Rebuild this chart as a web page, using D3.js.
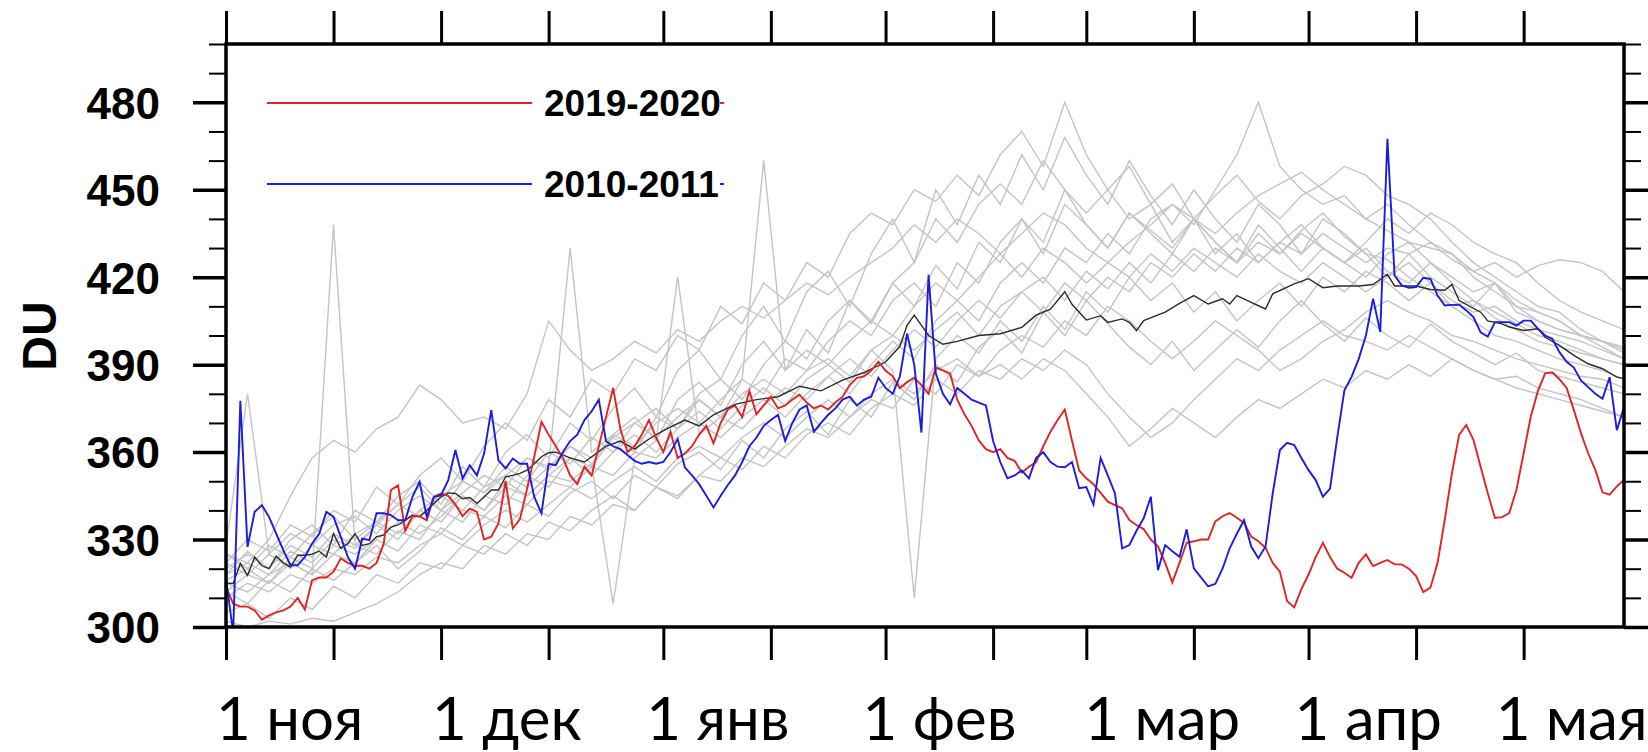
<!DOCTYPE html>
<html>
<head>
<meta charset="utf-8">
<script src="https://cdn.jsdelivr.net/npm/d3@7"></script>
<style>
  body { margin: 0; background: #fff; }
  svg { display: block; }
</style>
</head>
<body>
<svg id="chart"></svg>
<script>
// 1. Data (days counted from 1 Nov, values in DU)
const startDate = new Date(2010, 10, 1);
const endDate = new Date(2011, 4, 15);

const monthLabels = ["1 ноя", "1 дек", "1 янв", "1 фев", "1 мар", "1 апр", "1 мая"];
const yMajorTicks = [300, 330, 360, 390, 420, 450, 480];
const legendNames = ["2019-2020", "2010-2011"];

// 2019-2020, one value per day
const red2019 = [
  313.7, 308, 307, 307, 305.7, 302.5, 304, 305, 305.7, 307, 310, 306, 316, 317, 317, 319, 323.5, 322, 321, 321,
  320, 322, 328.6, 347, 348.6, 333, 338, 338, 336.6, 344.7, 345.8, 345, 342, 338, 340.6, 339.5, 330, 331, 335.5, 350,
  333.8, 337, 347.5, 358.4, 370.4, 366, 362, 358, 352, 349, 355, 352, 362, 372, 382, 368, 360, 362, 366, 371,
  365, 360, 367, 358, 359.5, 362, 366, 369, 363, 370, 374.6, 376, 372, 381, 373, 376, 379, 375, 376, 378,
  379.7, 377, 375, 376, 374.6, 377, 379, 383, 385.5, 386, 388, 391, 388, 386, 382, 384, 385.5, 383, 380, 389,
  388, 387, 378, 373, 369, 364, 361, 360, 361, 358, 357, 353, 355, 356.6, 362, 367, 371, 374.6, 364, 353.7,
  351, 349, 346, 343, 341.8, 340.7, 336.7, 335, 333.6, 330, 327.7, 322, 315.3, 322, 328.9, 329.4, 330, 330, 336.2, 338,
  339.1, 337.5, 335.7, 331, 329.4, 327.2, 322, 319, 308.9, 306.7, 313, 318, 324, 328.9, 324, 320, 318.6, 316.9, 322, 324.9,
  320.9, 322, 323, 321.5, 321.5, 320, 317.5, 312, 313.5, 322, 336.8, 352.8, 365.9, 369.3, 364.2, 355, 345.9, 337.4, 337.7, 339.1,
  347.1, 359.6, 372.2, 381, 387, 387.4, 385, 382, 374.5, 366.5, 359.6, 353.9, 346.2, 345.4, 348.2, 350.5
];

// 2010-2011, one value per day
const blue2010 = [
  316.6, 298, 377.6, 327.5, 339.5, 341.8, 337.8, 332, 326.3, 321.2, 321.2, 324, 328.6, 332, 339.5, 337.8, 331, 324, 320, 330.3,
  329.8, 339, 339, 338.4, 336.6, 336.6, 344.6, 349.8, 337.8, 344.6, 345.2, 350.4, 360.7, 351, 355.5, 352, 359.5, 374.4, 357.2, 354.4,
  357.8, 356, 356, 344.6, 339, 356, 355.5, 360, 363.8, 366, 371, 374, 378, 363.8, 362, 361, 359, 357, 356, 356.6,
  356, 356.6, 360, 364.5, 354.8, 352, 349, 345, 341, 345, 348.7, 352, 356.6, 362, 365, 369, 371, 372.8, 363.8, 370,
  374.6, 376, 367, 370, 372.8, 375, 378, 379, 376, 378, 379, 385.5, 382, 380, 386, 400.6, 390, 366.7, 420.8, 387,
  380, 376.4, 382, 380, 378, 377, 376, 363.8, 356.6, 351, 352, 353.7, 351, 358, 360, 356.6, 355, 354.8, 356.6, 347.6,
  348, 342, 358, 352, 345.8, 327, 328.1, 333, 337.3, 344.7, 319.5, 328.1, 326, 324.1, 333.5, 320.1, 317, 313.9, 314.8, 320,
  327, 332, 336.7, 327.6, 323.6, 327.6, 345.8, 360.7, 363.2, 362.4, 358, 353.8, 350.4, 344.7, 347.5, 365, 381.2, 385.8, 392, 400,
  412.6, 401.2, 467.5, 420.6, 417.2, 416.4, 416.6, 419.8, 419.4, 413.7, 410.3, 410.5, 410.6, 408.6, 406.3, 401.1, 399.6, 404.6, 404.6, 404.6,
  403.4, 405.1, 405.1, 402.3, 400, 398.9, 394.3, 391, 389, 384.6, 382.3, 380, 378.3, 385.7, 367.5, 375.5
];

// mean of all years: [day, DU]
const meanLine = [
  [0, 315], [1, 314.9], [2, 321.8], [3, 317.7], [4, 324], [5, 321], [6, 320], [7, 324.3], [8, 322], [9, 320.6],
  [10, 324.6], [11, 324.6], [12, 325], [13, 326], [14, 324], [15, 332], [16, 327], [17, 328.6], [18, 332], [19, 328],
  [20, 328.6], [21, 331], [22, 331.5], [23, 334.3], [24, 335], [25, 336.6], [26, 338.4], [27, 337.8], [28, 340], [29, 342.4],
  [30, 344.6], [31, 346], [32, 345.8], [33, 344], [34, 344.4], [35, 342.4], [36, 344.6], [37, 347], [38, 347], [39, 351.5],
  [40, 352], [41, 352.7], [42, 353.8], [43, 356], [44, 358.4], [45, 359.8], [46, 360], [48, 358], [50, 356.6], [53, 362],
  [55, 363.8], [57, 361], [59, 364.5], [61, 367.4], [64, 371], [66, 369], [68, 372.8], [71, 376.4], [74, 378], [77, 379],
  [80, 382.6], [83, 381], [86, 384.7], [89, 387.3], [92, 390.9], [94, 396.3], [95, 403.5], [96, 407], [98, 400], [100, 397],
  [102, 398], [105, 400], [108, 400.6], [111, 402.8], [113, 407], [115, 409], [117, 415], [118, 410.7], [120, 405.3], [122, 406.8],
  [123, 404.5], [125, 405.7], [126, 404.5], [127, 401.7], [128, 405.1], [131, 408], [133, 411], [135, 413.7], [137, 410.8], [139, 412.6],
  [140, 410.8], [141, 413.7], [143, 411.4], [145, 409.1], [146, 414.3], [149, 417.7], [151, 419.5], [153, 416.4], [155, 417], [158, 417],
  [160, 417.5], [162, 421], [163, 417], [166, 417], [168, 415.8], [170, 415.5], [171, 417.5], [172, 412], [175, 408], [176, 405],
  [178, 404], [179, 402.9], [181, 401.7], [183, 402.3], [184, 399.4], [186, 396.6], [188, 393.2], [190, 390.3], [192, 388.6], [194, 385.7],
  [195, 385.2]
];

// other years, sampled every 3 days
const greyDays = d3.range(0, 196, 3);
const otherYears = [
  [322,330,326,335,331,340,336,348,342,352,358, 350,362,370,364,378,372,385,380,392,388,400,
   395,410,404,418,412,425,420,435,442,438,450, 446,455,448,462,470,458,480,462,450,458,445,
   452,440,448,455,446,440,448,452,458,455,448, 445,440,432,425,420,415,410,408,402,398,396],
  [312,318,315,322,318,438,328,325,333,330,340, 336,345,342,352,348,358,355,365,360,372,368,
   378,372,385,380,392,388,398,405,400,412,418, 410,425,418,432,440,428,445,438,430,442,435,
   428,440,432,425,438,430,422,430,425,420,428, 432,425,420,415,418,410,405,402,400,396,392],
  [305,308,303,310,306,314,310,318,315,322,320, 328,325,332,328,336,333,340,345,340,348,344,
   352,358,354,362,358,366,370,366,375,380,376, 385,380,388,385,392,388,395,390,380,372,365,
   370,378,385,392,388,395,400,405,400,398,395, 400,396,392,388,385,386,382,380,378,375,372],
  [325,322,330,345,358,364,360,368,372,383,378, 370,372,368,380,405,395,388,392,398,394,402,
   398,405,410,406,412,418,414,420,425,430,438, 432,440,435,428,435,442,438,430,425,432,438,
   445,440,435,442,448,452,456,450,445,440,436, 432,430,428,422,418,412,408,405,400,398,395],
  [318,322,318,326,322,330,327,335,330,340,336, 345,340,350,345,352,358,352,360,366,360,368,
   374,368,376,382,376,385,390,384,395,388,310, 392,400,394,405,398,410,402,415,408,420,412,
   418,408,415,405,412,418,410,420,415,422,418, 412,418,410,405,400,398,395,392,390,388,385],
  [328,380,325,332,328,335,338,332,340,345,340, 350,346,355,350,360,356,365,360,370,375,368,
   380,385,378,390,398,392,405,412,405,418,425, 440,432,445,452,445,460,450,442,450,440,445,
   432,440,428,435,425,432,438,430,425,432,440, 435,442,438,432,428,425,418,412,408,405,402],
  [302,300,302,301,303,302,305,308,312,318,322, 320,328,325,332,330,338,335,342,340,348,345,
   352,350,358,355,362,368,365,372,378,375,385, 380,390,386,395,400,396,405,400,410,405,398,
   392,398,405,400,395,388,392,398,402,408,412, 408,405,400,398,395,392,390,388,386,385,382],
  [315,312,318,322,318,325,322,330,326,335,332, 340,338,345,342,350,348,355,352,360,358,365,
   370,365,372,378,372,380,386,380,390,398,392, 405,412,405,418,425,418,430,425,435,428,440,
   445,438,450,462,480,458,450,445,448,440,445, 438,432,428,420,415,410,408,405,400,398,396],
  [322,318,325,320,328,325,332,336,332,340,345, 340,348,352,348,355,362,358,365,370,365,372,
   378,372,380,385,380,388,392,386,395,400,395, 402,408,400,410,415,408,418,412,420,415,425,
   420,428,422,430,425,432,428,435,430,425,430, 428,432,426,422,425,420,424,426,425,422,415],
  [310,315,312,318,315,320,318,324,322,328,332, 328,335,340,336,342,348,344,350,355,350,358,
   362,358,365,370,365,372,378,372,380,385,380, 388,392,386,390,385,392,388,380,372,362,368,
   375,370,365,372,378,375,380,385,382,388,385, 390,386,392,388,385,382,380,378,376,374,372],
  [320,325,320,328,324,332,328,335,342,338,345, 350,346,352,358,355,430,360,366,362,370,375,
   370,378,385,460,388,395,390,398,405,400,410, 418,412,420,428,420,430,425,418,425,420,428,
   422,430,425,420,428,422,418,425,420,415,420, 425,418,412,408,410,405,402,400,398,395,392],
  [316,320,315,324,320,328,325,330,336,332,338, 345,340,348,345,352,350,356,308,358,364,420,
   366,372,368,376,382,378,386,392,386,395,402, 396,405,412,406,415,420,412,422,416,425,418,
   428,422,430,425,432,428,435,430,425,430,422, 418,425,418,412,408,404,400,398,395,392,390],
  [318,326,320,330,335,328,340,336,345,350,342, 355,348,360,366,358,370,364,375,382,372,388,
   395,385,400,410,398,415,422,410,428,440,425, 450,438,455,445,462,450,468,455,445,460,448,
   438,450,440,432,445,438,428,440,435,428,420, 428,420,415,410,418,408,405,402,400,398,394],
  [312,308,316,312,320,316,322,328,320,326,334, 330,338,334,342,338,346,350,344,352,348,356,
   360,354,364,358,368,374,366,378,372,384,378, 390,384,396,402,394,408,400,412,404,396,390,
   398,388,395,402,396,405,412,404,398,406,400, 396,404,398,394,390,394,388,386,384,382,380],
  [325,320,328,324,332,338,330,336,342,348,340, 346,352,348,358,354,362,356,366,372,364,378,
   384,376,390,398,388,402,394,412,404,418,410, 424,416,432,425,440,432,450,438,430,442,436,
   430,440,432,425,435,428,436,442,434,428,426, 420,415,410,412,406,402,398,396,394,392,390]
];

// 2. Chart setup
const width = 1648,
  height = 752;
const plotLeft = 226,
  plotRight = 1624,
  plotTop = 44,
  plotBottom = 627;

const svg = d3.select("#chart").attr("width", width).attr("height", height);

const x = d3.scaleTime().domain([startDate, endDate]).range([plotLeft, plotRight]);
const y = d3.scaleLinear().domain([300, 500]).range([plotBottom, plotTop]);
const dayX = (d) => x(d3.timeDay.offset(startDate, d));

// ticks on the 1st and 16th of every month
const monthStarts = d3.timeMonth.range(startDate, endDate);
const halfMonthTicks = monthStarts
  .flatMap((m) => [m, d3.timeDay.offset(m, 15)])
  .filter((d) => d < endDate);
const yMinorTicks = d3.range(310, 501, 10).filter((v) => !yMajorTicks.includes(v));

svg
  .append("clipPath")
  .attr("id", "plot-clip")
  .append("rect")
  .attr("x", plotLeft)
  .attr("y", plotTop)
  .attr("width", plotRight - plotLeft)
  .attr("height", plotBottom - plotTop);

const plot = svg.append("g").attr("clip-path", "url(#plot-clip)");

const line = d3
  .line()
  .x((d) => dayX(d[0]))
  .y((d) => y(d[1]));

// 3. Lines: other years, mean, then the two highlighted seasons
plot
  .selectAll(".grey")
  .data(otherYears)
  .enter()
  .append("path")
  .attr("class", "grey")
  .attr("d", (vals) => line(vals.map((v, i) => [greyDays[i], v])))
  .attr("fill", "none")
  .attr("stroke", "#c4c4c4")
  .attr("stroke-width", 1.4);

plot
  .append("path")
  .attr("d", line(meanLine))
  .attr("fill", "none")
  .attr("stroke", "#2b2b2b")
  .attr("stroke-width", 1.4);

plot
  .append("path")
  .attr("d", line(red2019.map((v, i) => [i, v])))
  .attr("fill", "none")
  .attr("stroke", "#e02424")
  .attr("stroke-width", 1.9);

plot
  .append("path")
  .attr("d", line(blue2010.map((v, i) => [i, v])))
  .attr("fill", "none")
  .attr("stroke", "#1c1ce0")
  .attr("stroke-width", 1.9);

// 4. Axes
function styleTicks(g, w) {
  g.select(".domain").remove();
  g.selectAll(".tick line").attr("stroke", "#000").attr("stroke-width", w);
}

svg
  .append("g")
  .attr("transform", `translate(0,${plotTop})`)
  .call(d3.axisTop(x).tickValues(halfMonthTicks).tickSize(33).tickFormat(""))
  .call(styleTicks, 3);

svg
  .append("g")
  .attr("transform", `translate(0,${plotBottom})`)
  .call(d3.axisBottom(x).tickValues(halfMonthTicks).tickSize(33).tickFormat(""))
  .call(styleTicks, 3);

const leftMajor = svg
  .append("g")
  .attr("transform", `translate(${plotLeft},0)`)
  .call(d3.axisLeft(y).tickValues(yMajorTicks).tickSize(33).tickPadding(33))
  .call(styleTicks, 3.5);

leftMajor
  .selectAll(".tick text")
  .attr("fill", "#000")
  .attr("font-family", "'Liberation Sans', Arial, Helvetica, sans-serif")
  .attr("font-weight", "bold")
  .attr("font-size", 44)
  .attr("dy", "0.36em");

svg
  .append("g")
  .attr("transform", `translate(${plotLeft},0)`)
  .call(d3.axisLeft(y).tickValues(yMinorTicks).tickSize(17).tickFormat(""))
  .call(styleTicks, 2);

svg
  .append("g")
  .attr("transform", `translate(${plotRight},0)`)
  .call(d3.axisRight(y).tickValues(yMajorTicks).tickSize(33).tickFormat(""))
  .call(styleTicks, 3.5);

svg
  .append("g")
  .attr("transform", `translate(${plotRight},0)`)
  .call(d3.axisRight(y).tickValues(yMinorTicks).tickSize(17).tickFormat(""))
  .call(styleTicks, 2);

// frame
svg
  .append("rect")
  .attr("x", plotLeft)
  .attr("y", plotTop)
  .attr("width", plotRight - plotLeft)
  .attr("height", plotBottom - plotTop)
  .attr("fill", "none")
  .attr("stroke", "#000")
  .attr("stroke-width", 3.5);

// month labels under the axis (hand placed in the original, small nudges)
const labelNudge = [-10, -9, -17, -23, -2, -14, -28];
svg
  .selectAll(".month-label")
  .data(monthLabels)
  .enter()
  .append("text")
  .attr("class", "month-label")
  .attr("x", (d, i) => x(monthStarts[i]) + labelNudge[i])
  .attr("y", 740)
  .attr("font-family", "Lato, Carlito, 'Open Sans', sans-serif")
  .attr("font-size", 60)
  .attr("fill", "#000")
  .text((d) => d);

// y title
svg
  .append("text")
  .attr("transform", `translate(56,336) rotate(-90)`)
  .attr("text-anchor", "middle")
  .attr("font-family", "'Liberation Sans', Arial, Helvetica, sans-serif")
  .attr("font-weight", "bold")
  .attr("font-size", 48)
  .attr("fill", "#000")
  .text("DU");

// 5. Legend
const legendColors = ["#e02424", "#1c1ce0"];
const legendY = [103, 184];
const legend = svg
  .selectAll(".legend")
  .data(legendNames)
  .enter()
  .append("g")
  .attr("class", "legend")
  .attr("transform", (d, i) => `translate(0,${legendY[i]})`);

legend
  .append("line")
  .attr("x1", 267)
  .attr("x2", 532)
  .attr("stroke", (d, i) => legendColors[i])
  .attr("stroke-width", 2);

legend
  .append("line")
  .attr("x1", 720)
  .attr("x2", 724)
  .attr("stroke", (d, i) => legendColors[i])
  .attr("stroke-width", 2);

legend
  .append("text")
  .attr("x", 544)
  .attr("dy", "0.36em")
  .attr("font-family", "'Liberation Sans', Arial, Helvetica, sans-serif")
  .attr("font-weight", "bold")
  .attr("font-size", 37)
  .attr("fill", "#000")
  .text((d) => d);
</script>
</body>
</html>
